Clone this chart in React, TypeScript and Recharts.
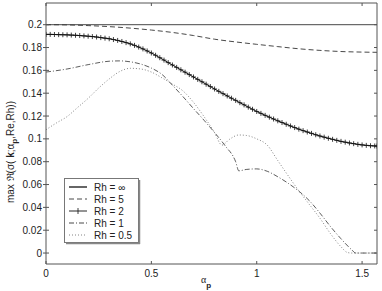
import React from 'react';
import { LineChart, Line, XAxis, YAxis, Legend } from 'recharts';

// axis ticks
const xTicks = [0, 0.5, 1, 1.5];
const yTicks = [0, 0.02, 0.04, 0.06, 0.08, 0.1, 0.12, 0.14, 0.16, 0.18, 0.2];

// Rh = inf : flat
const rhInfAlpha = [0, 1.5708];
const rhInfValues = [0.2, 0.2];

// Rh = 5
const rh5Alpha = [0, 0.1, 0.2, 0.3, 0.4, 0.5, 0.6, 0.7, 0.8, 0.9, 1.0, 1.1, 1.2, 1.3, 1.4, 1.5, 1.5708];
const rh5Values = [0.2, 0.1998, 0.1992, 0.1983, 0.197, 0.1953, 0.1932, 0.1905, 0.1873, 0.1849, 0.1828, 0.1808, 0.1789, 0.1775, 0.1765, 0.176, 0.1758];

// Rh = 2 (markers on every sample)
const rh2Alpha = [
    0, 0.02, 0.04, 0.06, 0.08, 0.1, 0.12, 0.14, 0.16, 0.18, 0.2, 0.22, 0.24, 0.26, 0.28, 0.3,
    0.32, 0.34, 0.36, 0.38, 0.4, 0.42, 0.44, 0.46, 0.48, 0.5, 0.52, 0.54, 0.56, 0.58, 0.6,
    0.62, 0.64, 0.66, 0.68, 0.7, 0.72, 0.74, 0.76, 0.78, 0.8, 0.82, 0.84, 0.86, 0.88, 0.9,
    0.92, 0.94, 0.96, 0.98, 1.0, 1.02, 1.04, 1.06, 1.08, 1.1, 1.12, 1.14, 1.16, 1.18, 1.2,
    1.22, 1.24, 1.26, 1.28, 1.3, 1.32, 1.34, 1.36, 1.38, 1.4, 1.42, 1.44, 1.46, 1.48, 1.5,
    1.52, 1.54, 1.56, 1.5708,
];
const rh2Values = [
    0.1915, 0.1915, 0.1914, 0.1913, 0.1912, 0.1911, 0.1909, 0.1907, 0.1905, 0.1902, 0.1899,
    0.1896, 0.1892, 0.1887, 0.1882, 0.1877, 0.187, 0.1862, 0.1853, 0.1843, 0.1832, 0.1819,
    0.1804, 0.1788, 0.177, 0.1752, 0.1732, 0.1711, 0.169, 0.1668, 0.1647, 0.1626, 0.1605,
    0.1584, 0.1563, 0.1542, 0.1521, 0.15, 0.1479, 0.1458, 0.1437, 0.1416, 0.1396, 0.1376,
    0.1356, 0.1337, 0.1317, 0.1298, 0.1278, 0.1259, 0.124, 0.1223, 0.1206, 0.119, 0.1174,
    0.1158, 0.1143, 0.1128, 0.1113, 0.1099, 0.1085, 0.1072, 0.106, 0.1048, 0.1036, 0.1025,
    0.1015, 0.1005, 0.0996, 0.0987, 0.0978, 0.0971, 0.0964, 0.0958, 0.0952, 0.0947, 0.0943,
    0.094, 0.0938, 0.0937,
];

// Rh = 1 (kink near 0.915)
const rh1Alpha = [0, 0.1, 0.2, 0.3, 0.35, 0.4, 0.45, 0.5, 0.55, 0.6, 0.65, 0.7, 0.75, 0.8, 0.85, 0.9, 0.915, 0.95, 1.0, 1.05, 1.1, 1.15, 1.2, 1.25, 1.3, 1.35, 1.4, 1.45, 1.47, 1.5, 1.5708];
const rh1Values = [0.1585, 0.1612, 0.165, 0.168, 0.1683, 0.1675, 0.1655, 0.162, 0.1565, 0.147, 0.137, 0.1265, 0.1163, 0.1055, 0.094, 0.08, 0.072, 0.0732, 0.0737, 0.0716, 0.0668, 0.061, 0.0542, 0.0458, 0.035, 0.0232, 0.0125, 0.003, 0, 0, 0];

// Rh = 0.5 (cusp near 0.835)
const rh05Alpha = [0, 0.05, 0.1, 0.15, 0.2, 0.25, 0.3, 0.35, 0.4, 0.45, 0.5, 0.55, 0.6, 0.65, 0.7, 0.75, 0.8, 0.835, 0.87, 0.915, 0.95, 1.0, 1.05, 1.1, 1.15, 1.2, 1.25, 1.3, 1.35, 1.4, 1.43, 1.45, 1.5, 1.5708];
const rh05Values = [0.108, 0.114, 0.1195, 0.1275, 0.1355, 0.1445, 0.1525, 0.159, 0.1618, 0.1612, 0.1585, 0.1535, 0.148, 0.142, 0.132, 0.1195, 0.1055, 0.0945, 0.0995, 0.1034, 0.103, 0.1, 0.0945, 0.081, 0.0675, 0.0545, 0.0425, 0.0305, 0.017, 0.0055, 0.0005, 0, 0, 0];

const toData = (alpha: number[], vals: number[]) => alpha.map((a, i) => ({ a, v: vals[i] }));

const LEFT = 46;
const RIGHT = 377;
const TOP = 3;
const BOTTOM = 264;
const AXIS = '#555';
const FONT = "'Liberation Sans', Arial, Helvetica, sans-serif";

const fmt = (v: number) => (v === 0 ? '0' : String(Number(v.toFixed(2))));

const LeftTick = (props: any) => {
    const { y, payload } = props;
    return (
        <g>
            <line x1={LEFT - 3} x2={LEFT + 3} y1={y} y2={y} stroke={AXIS} strokeWidth={1} />
            <text x={LEFT - 4} y={y} textAnchor="end" dominantBaseline="central" fontSize={10} fontFamily={FONT} fill="#222">
                {fmt(payload.value)}
            </text>
        </g>
    );
};

const RightTick = (props: any) => (
    <line x1={RIGHT - 3} x2={RIGHT} y1={props.y} y2={props.y} stroke={AXIS} strokeWidth={1} />
);

const BottomTick = (props: any) => {
    const { x, payload } = props;
    return (
        <g>
            <line x1={x} x2={x} y1={BOTTOM} y2={BOTTOM - 3} stroke={AXIS} strokeWidth={1} />
            <text x={x} y={273} textAnchor="middle" dominantBaseline="central" fontSize={10} fontFamily={FONT} fill="#222">
                {fmt(payload.value)}
            </text>
        </g>
    );
};

const TopTick = (props: any) => (
    <line x1={props.x} x2={props.x} y1={TOP} y2={TOP + 3} stroke={AXIS} strokeWidth={1} />
);

const PlusDot = (props: any) => {
    const { cx, cy, index } = props;
    if (cx == null || cy == null) return null;
    return (
        <path
            key={'p' + index}
            d={`M${cx - 2.5},${cy}h5M${cx},${cy - 2.5}v5`}
            stroke="#111"
            strokeWidth={0.8}
            fill="none"
        />
    );
};

const series = [
    { name: 'Rh = \u221e', dash: undefined, color: '#333', plus: false },
    { name: 'Rh = 5', dash: '5 3', color: '#333', plus: false },
    { name: 'Rh = 2', dash: undefined, color: '#111', plus: true },
    { name: 'Rh = 1', dash: '5 2 1 2', color: '#333', plus: false },
    { name: 'Rh = 0.5', dash: '1 2', color: '#777', plus: false },
];

const LegendBox = () => (
    <svg width={78} height={68} style={{ display: 'block' }}>
        <rect x={0.5} y={0.5} width={74} height={64} fill="#fff" stroke="#777" strokeWidth={1} />
        <line x1={75.5} y1={2} x2={75.5} y2={66} stroke="#888" strokeWidth={1.5} />
        <line x1={2} y1={65.5} x2={76} y2={65.5} stroke="#888" strokeWidth={1.5} />
        {series.map((s, i) => {
            const y = 9 + i * 12;
            return (
                <g key={s.name}>
                    <line x1={5} x2={23} y1={y} y2={y} stroke={s.color} strokeWidth={s.name === 'Rh = \u221e' ? 1.5 : 0.9} strokeDasharray={s.dash} />
                    {s.plus && <path d={`M14,${y - 3}v6`} stroke="#111" strokeWidth={0.8} />}
                    <text x={30} y={y} dominantBaseline="central" fontSize={10} fontFamily={FONT} fill="#222">
                        {s.name}
                    </text>
                </g>
            );
        })}
    </svg>
);

const App = () => {
    const lineProps = { xAxisId: 'b', yAxisId: 'l', dataKey: 'v', isAnimationActive: false, activeDot: false as const };
    return (
        <div style={{ position: 'absolute', left: 0, top: 0, background: '#fff' }}>
            <LineChart width={382} height={291} margin={{ top: 0, right: 0, bottom: 0, left: 0 }}>
                <XAxis xAxisId="b" type="number" dataKey="a" domain={[0, 1.5708]} ticks={xTicks} interval={0} height={27} tick={BottomTick} tickLine={false} axisLine={{ stroke: AXIS }} allowDataOverflow />
                <XAxis xAxisId="t" orientation="top" type="number" dataKey="a" domain={[0, 1.5708]} ticks={xTicks} interval={0} height={3} tick={TopTick} tickLine={false} axisLine={{ stroke: AXIS }} allowDataOverflow />
                <YAxis yAxisId="l" type="number" domain={[-0.0096, 0.219]} ticks={yTicks} interval={0} width={46} tick={LeftTick} tickLine={false} axisLine={{ stroke: AXIS }} allowDataOverflow />
                <YAxis yAxisId="r" orientation="right" type="number" domain={[-0.0096, 0.219]} ticks={yTicks} interval={0} width={5} tick={RightTick} tickLine={false} axisLine={{ stroke: AXIS }} allowDataOverflow />
                <Line {...lineProps} data={toData(rhInfAlpha, rhInfValues)} type="linear" stroke="#333" strokeWidth={0.9} dot={false} name="Rh = inf" />
                <Line {...lineProps} data={toData(rh5Alpha, rh5Values)} type="monotone" stroke="#333" strokeWidth={0.9} strokeDasharray="5 3" dot={false} name="Rh = 5" />
                <Line {...lineProps} data={toData(rh1Alpha, rh1Values)} type="monotone" stroke="#333" strokeWidth={0.8} strokeDasharray="5 2 1 2" dot={false} name="Rh = 1" />
                <Line {...lineProps} data={toData(rh05Alpha, rh05Values)} type="monotone" stroke="#777" strokeWidth={0.9} strokeDasharray="1 2" dot={false} name="Rh = 0.5" />
                <Line {...lineProps} data={toData(rh2Alpha, rh2Values)} type="linear" stroke="#111" strokeWidth={1} dot={PlusDot} name="Rh = 2" />
                <Legend
                    layout="vertical"
                    align="center"
                    verticalAlign="middle"
                    wrapperStyle={{ left: 64, top: 178, width: 78, height: 68 }}
                    content={() => <LegendBox />}
                />
                <text
                    x={14}
                    y={152}
                    transform="rotate(-90, 14, 152)"
                    textAnchor="middle"
                    fontSize={10}
                    fontFamily={FONT}
                    fill="#222"
                >
                    max {'\u211c'}({'\u03c3'}( <tspan fontWeight="bold">k</tspan>;{'\u03b1'}
                    <tspan dy={3} fontSize={8} fontWeight="bold">p</tspan>
                    <tspan dy={-3}>,Re,Rh))</tspan>
                </text>
                <text x={206} y={283} textAnchor="middle" fontSize={10} fontFamily="'Liberation Serif', serif" fill="#222">
                    {'\u03b1'}
                    <tspan dy={5} fontSize={8} fontWeight="bold" fontFamily={FONT}>p</tspan>
                </text>
            </LineChart>
        </div>
    );
};

export default App;
